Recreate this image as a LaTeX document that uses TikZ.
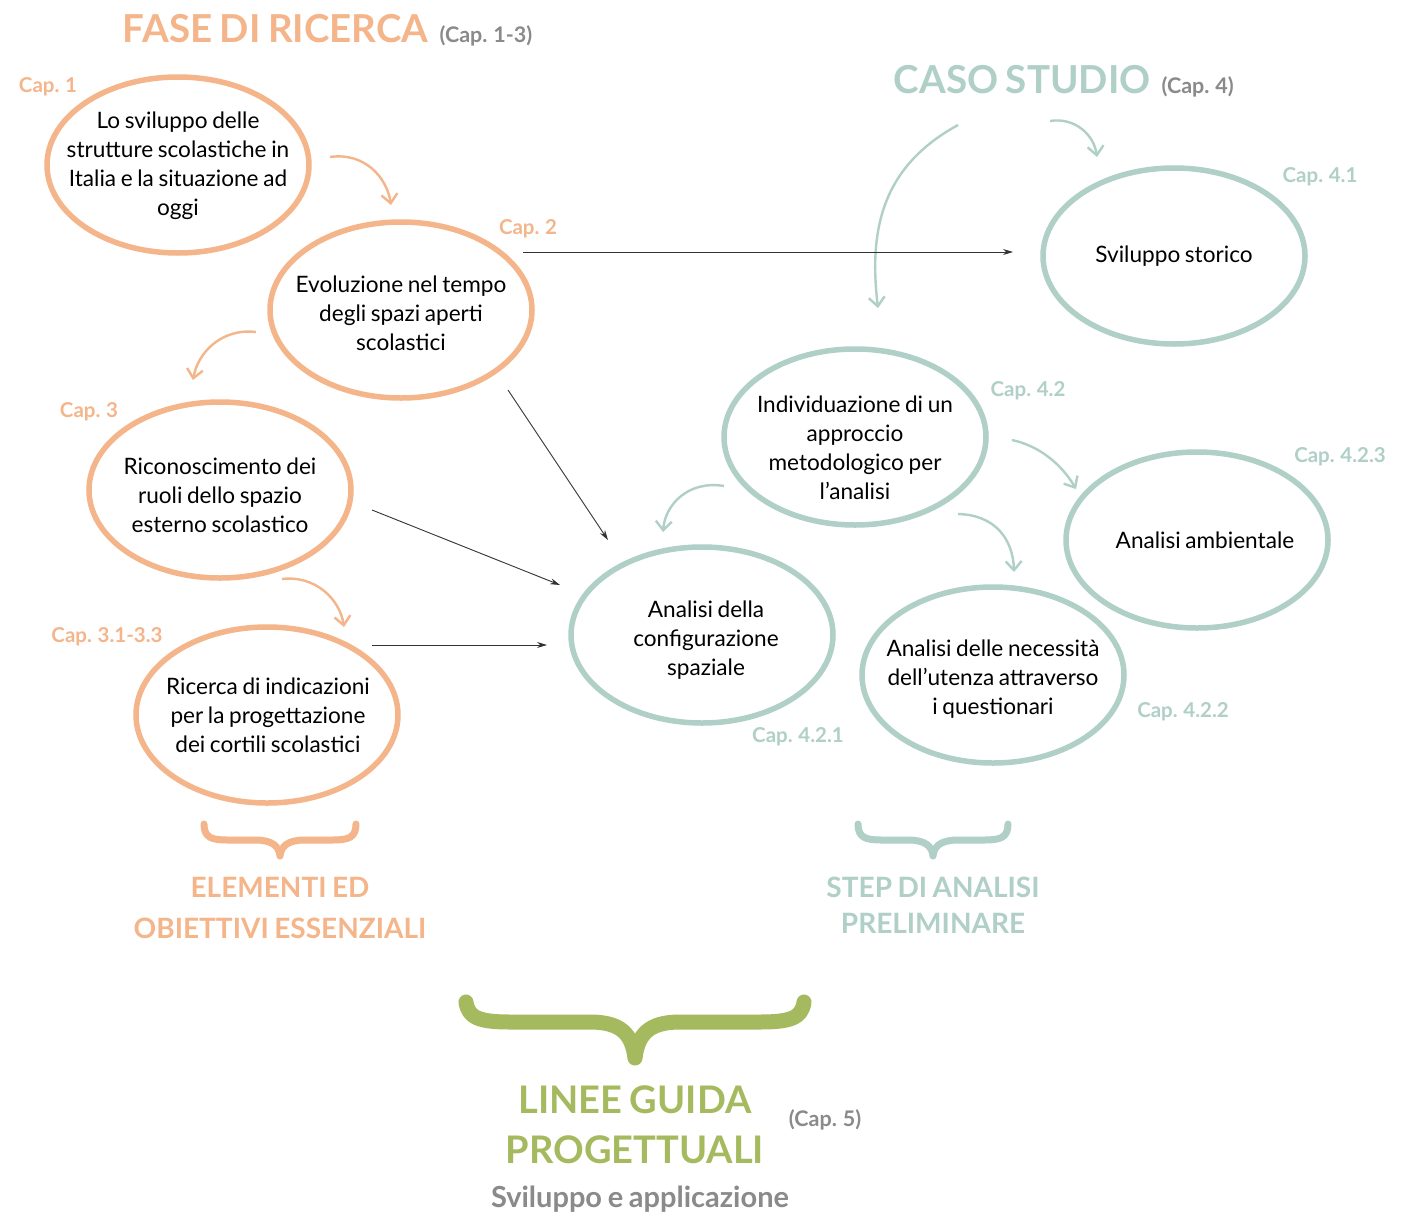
\documentclass[tikz,border=0pt]{standalone}
\usepackage{fontspec}
\setmainfont{Lato}[WordSpace=0.8]
\usetikzlibrary{arrows.meta}
\definecolor{cor}{HTML}{F5B58B}
\definecolor{cte}{HTML}{AFCFC7}
\definecolor{cgr}{HTML}{A5BA5E}
\definecolor{cgy}{HTML}{8A8A8A}
\tikzset{
  otext/.style={align=center,font=\fontsize{22.6}{29}\selectfont,text=black},
  caplab/.style={font=\fontsize{20.5}{24}\selectfont\bfseries},
  head/.style={font=\fontsize{38.5}{44}\selectfont\bfseries},
  sub/.style={font=\fontsize{21.5}{24}\selectfont\bfseries,text=cgy},
  foot/.style={font=\fontsize{28}{38}\selectfont\bfseries,align=center},
  carr/.style={line width=2.4pt,-{Straight Barb[length=9pt,width=16pt,line width=2.4pt]}},
  barr/.style={line width=0.9pt,black!80,-{Stealth[length=10pt,width=6pt]}},
  brace/.style={line cap=round,line join=round}
}
\begin{document}
\begin{tikzpicture}[x=1pt,y=-1pt]
\useasboundingbox[fill=white] (0,0) rectangle (1410,1215);

% ---- ellipses
\foreach \n/\cx/\cy/\c in {E1/178/165/cor,E2/401/310/cor,E3/220/490/cor,E4/267/715/cor,
  S1/1174/256/cte,S2/855/437/cte,S3/1197/540/cte,S4/702/635/cte,S5/993/675/cte}{
  \draw[\c,line width=5.5pt] (\cx,\cy) ellipse [x radius=131, y radius=88];
}
% nodes (text)
\node[otext] (t1) at (178,166) {Lo sviluppo delle\\strutture scolastiche in\\Italia e la situazione ad\\oggi};
\node[otext] (t2) at (401,313) {Evoluzione nel tempo\\degli spazi aperti\\scolastici};
\node[otext] (t3) at (220,495) {Riconoscimento dei\\ruoli dello spazio\\esterno scolastico};
\node[otext] (t4) at (268,715) {Ricerca di indicazioni\\per la progettazione\\dei cortili scolastici};
\node[otext] (t5) at (1174,256) {Sviluppo storico};
\node[otext] (t6) at (855,448) {Individuazione di un\\approccio\\metodologico per\\l’analisi};
\node[otext] (t7) at (1205,540) {Analisi ambientale};
\node[otext] (t8) at (706,640) {Analisi della\\configurazione\\spaziale};
\node[otext] (t9) at (993,679) {Analisi delle necessità\\dell’utenza attraverso\\i questionari};

% ---- cap labels
\node[caplab,text=cor] (c1) at (48,87) {Cap. 1};
\node[caplab,text=cor] (c2) at (528,229) {Cap. 2};
\node[caplab,text=cor] (c3) at (89,412) {Cap. 3};
\node[caplab,text=cor] (c4) at (107,637) {Cap. 3.1-3.3};
\node[caplab,text=cte] (c5) at (1320,177) {Cap. 4.1};
\node[caplab,text=cte] (c6) at (1028,391) {Cap. 4.2};
\node[caplab,text=cte] (c7) at (1340,457) {Cap. 4.2.3};
\node[caplab,text=cte] (c8) at (798,737) {Cap. 4.2.1};
\node[caplab,text=cte] (c9) at (1183,712) {Cap. 4.2.2};

% ---- headings
\node[head,text=cor,anchor=base east] (h1) at (432,43) {FASE DI RICERCA};
\node[sub,anchor=base west] (h1s) at (436,43) {(Cap. 1-3)};
\node[head,text=cte,anchor=base east] (h2) at (1154,93) {CASO STUDIO};
\node[sub,anchor=base west] (h2s) at (1158,93) {(Cap. 4)};

\node[foot,text=cor,font=\fontsize{28}{41}\selectfont\bfseries] (f1) at (280,908) {ELEMENTI ED\\OBIETTIVI ESSENZIALI};
\node[foot,text=cte,font=\fontsize{28}{36}\selectfont\bfseries] (f2) at (933,905) {STEP DI ANALISI\\PRELIMINARE};
\node[font=\fontsize{38}{50}\selectfont\bfseries,align=center,text=cgr] (f3) at (635,1125) {LINEE GUIDA\\PROGETTUALI};
\node[sub] (f3s) at (825,1120) {(Cap. 5)};
\node[font=\fontsize{29}{32}\selectfont\bfseries,text=cgy] (f4) at (640,1199) {Sviluppo e applicazione};

% ---- braces
\draw[brace,cor,line width=7pt] (204,824) .. controls (204,838) and (212,840) .. (228,840) -- (255,840)
  .. controls (272,840) and (279,846) .. (280,856)
  .. controls (281,846) and (288,840) .. (305,840) -- (332,840)
  .. controls (348,840) and (356,838) .. (356,824);
\draw[brace,cte,line width=7pt] (858,824) .. controls (858,838) and (866,840) .. (882,840) -- (908,840)
  .. controls (925,840) and (932,846) .. (933,856)
  .. controls (934,846) and (941,840) .. (958,840) -- (984,840)
  .. controls (1000,840) and (1008,838) .. (1008,824);
\draw[brace,cgr,line width=15pt] (466,1002) .. controls (468,1018) and (480,1022) .. (510,1022) -- (590,1022)
  .. controls (622,1022) and (632,1035) .. (635,1058)
  .. controls (638,1035) and (648,1022) .. (680,1022) -- (760,1022)
  .. controls (790,1022) and (802,1018) .. (804,1002);

% ---- curved arrows (free ends as named coordinates)
\coordinate (a1s) at (330,157); \coordinate (a1e) at (391,205);
\coordinate (a2s) at (256,332); \coordinate (a2e) at (193,380);
\coordinate (a3s) at (282,579); \coordinate (a3e) at (344,627);
\coordinate (b1s) at (958,125); \coordinate (b1e) at (878,308);
\coordinate (b2s) at (1050,121); \coordinate (b2e) at (1097,157);
\coordinate (b3s) at (724,486); \coordinate (b3e) at (663,532);
\coordinate (b4s) at (1012,440); \coordinate (b4e) at (1076,489);
\coordinate (b5s) at (958,514); \coordinate (b5e) at (1014,572);
\draw[carr,cor] (a1s) .. controls (365,152) and (387,178) .. (a1e);
\draw[carr,cor] (a2s) .. controls (222,328) and (198,352) .. (a2e);
\draw[carr,cor] (a3s) .. controls (316,575) and (340,600) .. (a3e);
\draw[carr,cte] (b1s) .. controls (885,165) and (868,225) .. (b1e);
\draw[carr,cte] (b2s) .. controls (1075,117) and (1094,135) .. (b2e);
\draw[carr,cte] (b3s) .. controls (688,480) and (665,505) .. (b3e);
\draw[carr,cte] (b4s) .. controls (1040,446) and (1062,465) .. (b4e);
\draw[carr,cte] (b5s) .. controls (996,515) and (1013,540) .. (b5e);

% ---- straight black arrows
\coordinate (k1s) at (523,252); \coordinate (k1e) at (1013,252);
\coordinate (k2s) at (508,390); \coordinate (k2e) at (608,540);
\coordinate (k3s) at (372,510); \coordinate (k3e) at (560,585);
\coordinate (k4s) at (372,645); \coordinate (k4e) at (547,645);
\draw[barr] (k1s) -- (k1e);
\draw[barr] (k2s) -- (k2e);
\draw[barr] (k3s) -- (k3e);
\draw[barr] (k4s) -- (k4e);
\end{tikzpicture}
\end{document}
